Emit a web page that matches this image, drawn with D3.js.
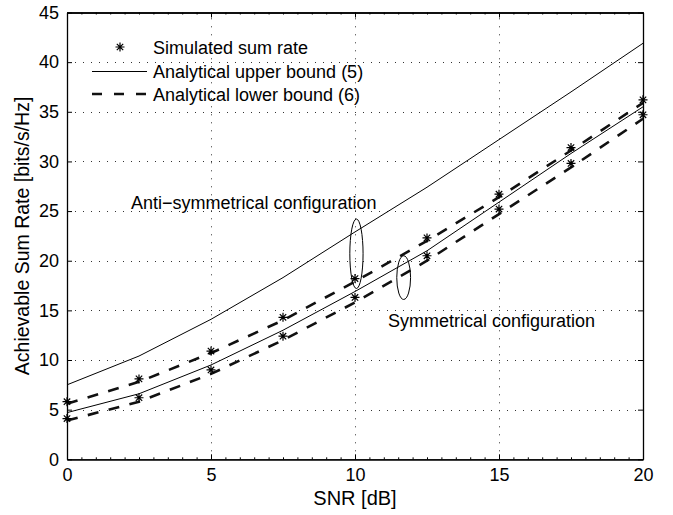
<!DOCTYPE html>
<html lang="en">

<head>
  <meta charset="UTF-8">
  <title>Achievable sum rate</title>
  <script src="https://cdn.jsdelivr.net/npm/d3@7.6.1/dist/d3.min.js"></script>
  <style>
    body { margin: 0; background: #fff; }
    svg { display: block; font-family: "Liberation Sans", Arial, sans-serif; }
  </style>
</head>

<body>
  <div id="chart"></div>
  <script>
    const width = 673
    const height = 515
    const margin = { left: 67, right: 30, top: 12.5, bottom: 55.7 }

    // SNR points in dB
    const snr = [0, 2.5, 5, 7.5, 10, 12.5, 15, 17.5, 20]
    // anti-symmetrical configuration
    const antiUpper = [7.5, 10.4, 14.1, 18.3, 22.9, 27.4, 32.2, 37.0, 41.9]
    const antiLower = [5.6, 7.8, 10.7, 14.0, 17.9, 22.0, 26.4, 31.1, 35.9]
    const antiSim = [5.8, 8.1, 10.9, 14.3, 18.2, 22.3, 26.7, 31.4, 36.2]
    // symmetrical configuration
    const symUpper = [4.7, 6.6, 9.5, 13.0, 16.9, 21.0, 25.9, 30.8, 35.5]
    const symLower = [3.9, 5.8, 8.6, 12.0, 15.8, 20.0, 24.7, 29.4, 34.3]
    const symSim = [4.1, 6.2, 9.0, 12.4, 16.3, 20.5, 25.2, 29.8, 34.7]

    const xTicks = [0, 5, 10, 15, 20]
    const yTicks = [0, 5, 10, 15, 20, 25, 30, 35, 40, 45]

    const x = d3.scaleLinear().domain([0, 20]).range([margin.left, width - margin.right])
    const y = d3.scaleLinear().domain([0, 45]).range([height - margin.bottom, margin.top])

    const svg = d3.select('#chart').append('svg')
      .attr('width', width)
      .attr('height', height)

    const x0 = x.range()[0], x1 = x.range()[1]
    const y0 = y.range()[0], y1 = y.range()[1]

    // dotted grid
    const grid = svg.append('g').attr('stroke', '#333').attr('stroke-width', 1).attr('stroke-dasharray', '1,7')
    grid.selectAll('.gx').data(xTicks.slice(1, -1)).enter().append('line')
      .attr('x1', d => Math.round(x(d)) + 0.5).attr('x2', d => Math.round(x(d)) + 0.5)
      .attr('y1', y0).attr('y2', y1)
    grid.selectAll('.gy').data(yTicks.slice(1, -1)).enter().append('line')
      .attr('x1', x0).attr('x2', x1)
      .attr('y1', d => Math.round(y(d)) + 0.5).attr('y2', d => Math.round(y(d)) + 0.5)

    // box axes with inward ticks
    svg.append('g').attr('transform', `translate(0,${y0})`)
      .call(d3.axisBottom(x).tickValues(xTicks).tickSizeInner(-5).tickSizeOuter(0).tickPadding(9))
    svg.append('g').attr('transform', `translate(0,${y1})`)
      .call(d3.axisTop(x).tickValues(xTicks).tickSizeInner(-5).tickSizeOuter(0).tickFormat(''))
    svg.append('g').attr('transform', `translate(${x0},0)`)
      .call(d3.axisLeft(y).tickValues(yTicks).tickSizeInner(-5).tickSizeOuter(0).tickPadding(8))
    svg.append('g').attr('transform', `translate(${x1},0)`)
      .call(d3.axisRight(y).tickValues(yTicks).tickSizeInner(-5).tickSizeOuter(0).tickFormat(''))

    // minor ticks on x
    const minor = d3.range(0, 20.01, 0.5)
    svg.append('g').attr('transform', `translate(0,${y0})`)
      .call(d3.axisBottom(x).tickValues(minor).tickSizeInner(-2).tickSizeOuter(0).tickFormat(''))
    svg.append('g').attr('transform', `translate(0,${y1})`)
      .call(d3.axisTop(x).tickValues(minor).tickSizeInner(-2).tickSizeOuter(0).tickFormat(''))

    svg.selectAll('.domain').attr('stroke', '#000').attr('stroke-width', 1.3)
    svg.selectAll('.tick line').attr('stroke', '#000')
    svg.selectAll('.tick text').attr('font-size', 18).attr('fill', '#000')
      .attr('font-family', '"Liberation Sans", Arial, sans-serif')

    // curves
    const line = d3.line().x((d, i) => x(snr[i])).y(d => y(d))
    const solid = { stroke: '#000', 'stroke-width': 1, fill: 'none' }
    const dashed = { stroke: '#111', 'stroke-width': 2.6, fill: 'none', 'stroke-dasharray': '11,10.5' }

    function addPath(data, style) {
      const p = svg.append('path').datum(data).attr('d', line)
      Object.entries(style).forEach(([k, v]) => p.attr(k, v))
    }
    addPath(antiUpper, solid)
    addPath(symUpper, solid)
    addPath(antiLower, dashed)
    addPath(symLower, dashed)

    // asterisk marker
    const star = 'M0,-4.5V4.5M-4.5,0H4.5M-3.2,-3.2L3.2,3.2M-3.2,3.2L3.2,-3.2'
    function addStars(data) {
      svg.append('g').selectAll('path').data(data).enter().append('path')
        .attr('transform', (d, i) => `translate(${x(snr[i])},${y(d)})`)
        .attr('d', star).attr('stroke', '#000').attr('stroke-width', 1.2).attr('fill', 'none')
    }
    addStars(antiSim)
    addStars(symSim)

    // ellipses marking the two configurations
    const ellipses = [
      { cx: 10.05, cy: 20.7, rx: 0.23, ry: 3.5 },
      { cx: 11.69, cy: 18.3, rx: 0.24, ry: 2.2 }
    ]
    svg.selectAll('ellipse').data(ellipses).enter().append('ellipse')
      .attr('cx', d => x(d.cx)).attr('cy', d => y(d.cy))
      .attr('rx', d => x(d.rx) - x(0)).attr('ry', d => y(0) - y(d.ry))
      .attr('fill', 'none').attr('stroke', '#000').attr('stroke-width', 1)

    // annotations
    svg.append('text').attr('x', 131).attr('y', 209).attr('font-size', 18)
      .text('Anti\u2212symmetrical configuration')
    svg.append('text').attr('x', 388).attr('y', 327).attr('font-size', 18)
      .text('Symmetrical configuration')

    // legend
    const legend = svg.append('g')
    const legY = [47, 71.5, 94]
    legend.append('path').attr('transform', `translate(120,${legY[0]})`)
      .attr('d', star).attr('stroke', '#000').attr('stroke-width', 1.2)
    legend.append('line').attr('x1', 92).attr('x2', 147).attr('y1', legY[1]).attr('y2', legY[1])
      .attr('stroke', '#000').attr('stroke-width', 1)
    legend.append('line').attr('x1', 92).attr('x2', 147).attr('y1', legY[2]).attr('y2', legY[2])
      .attr('stroke', '#111').attr('stroke-width', 2.6).attr('stroke-dasharray', '10,12')
    const legText = ['Simulated sum rate', 'Analytical upper bound (5)', 'Analytical lower bound (6)']
    legend.selectAll('text').data(legText).enter().append('text')
      .attr('x', 153).attr('y', (d, i) => legY[i] + 6.5).attr('font-size', 18)
      .text(d => d)

    // axis titles
    svg.append('text').attr('x', (x0 + x1) / 2).attr('y', 505).attr('text-anchor', 'middle')
      .attr('font-size', 20).text('SNR [dB]')
    svg.append('text').attr('transform', `translate(29,${(y0 + y1) / 2}) rotate(-90)`)
      .attr('text-anchor', 'middle').attr('font-size', 19.5).text('Achievable Sum Rate [bits/s/Hz]')
  </script>
</body>

</html>
